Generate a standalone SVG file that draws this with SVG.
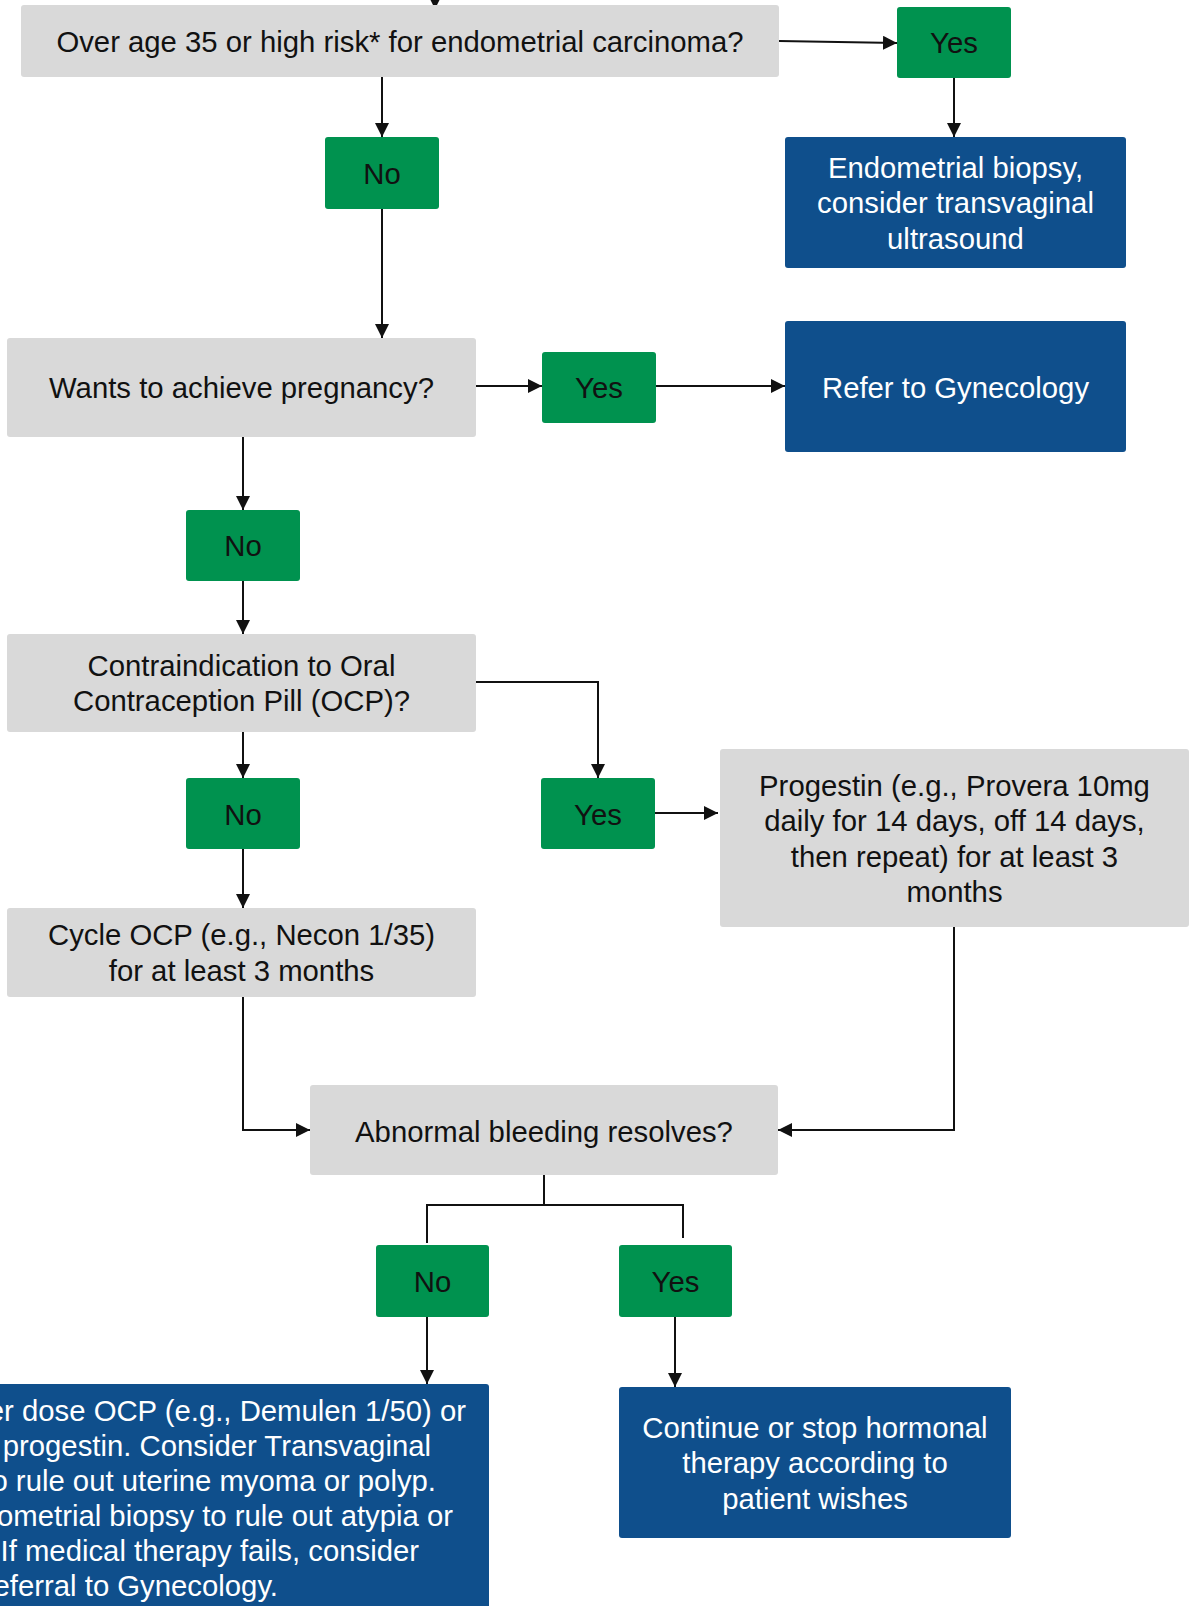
<svg xmlns="http://www.w3.org/2000/svg" width="1190" height="1606" viewBox="0 0 1190 1606">
  <defs>
    <marker id="arrow" markerUnits="userSpaceOnUse" markerWidth="15" markerHeight="15" refX="14" refY="7" orient="auto">
      <path d="M0,0 L14,7 L0,14 z" fill="#111"/>
    </marker>
  </defs>
  <style>
    .q { fill: #D9D9D9; }
    .ans { fill: #00924F; }
    .act { fill: #0F4F8C; }
    text { font-family: "Liberation Sans", Arial, sans-serif; font-size: 29.3px; text-anchor: middle; }
    .dark { fill: #111; }
    .light { fill: #FFFFFF; }
    .wire { fill: none; stroke: #111; stroke-width: 2; }
    .arr { marker-end: url(#arrow); }
    .tail { text-anchor: end; }
  </style>

  <!-- connectors -->
  <g id="connectors">
    <path class="wire arr" d="M435,-20 L435,9"/>
    <path class="wire arr" d="M779,41 L897,43"/>
    <path class="wire arr" d="M954,78 L954,137"/>
    <path class="wire arr" d="M382,77 L382,137"/>
    <path class="wire arr" d="M382,209 L382,338"/>
    <path class="wire arr" d="M476,386 L542,386"/>
    <path class="wire arr" d="M656,386 L785,386"/>
    <path class="wire arr" d="M243,437 L243,510"/>
    <path class="wire arr" d="M243,581 L243,634"/>
    <path class="wire arr" d="M476,682 L598,682 L598,778"/>
    <path class="wire arr" d="M243,732 L243,778"/>
    <path class="wire arr" d="M655,813 L718,813"/>
    <path class="wire arr" d="M243,849 L243,908"/>
    <path class="wire arr" d="M243,997 L243,1130 L310,1130"/>
    <path class="wire arr" d="M954,927 L954,1130 L778,1130"/>
    <path class="wire" d="M544,1175 L544,1205"/>
    <path class="wire" d="M427,1243 L427,1205 L683,1205 L683,1238"/>
    <path class="wire arr" d="M427,1317 L427,1384"/>
    <path class="wire arr" d="M675,1317 L675,1387"/>
  </g>

  <!-- question: age / risk -->
  <g id="q-age">
    <rect class="q" x="21" y="5" width="758" height="72" rx="3"/>
    <text class="dark" x="400" y="52">Over age 35 or high risk* for endometrial carcinoma?</text>
  </g>
  <g id="age-yes">
    <rect class="ans" x="897" y="7" width="114" height="71" rx="3"/>
    <text class="dark" x="954" y="53">Yes</text>
  </g>
  <g id="age-no">
    <rect class="ans" x="325" y="137" width="114" height="72" rx="3"/>
    <text class="dark" x="382" y="184">No</text>
  </g>
  <g id="biopsy">
    <rect class="act" x="785" y="137" width="341" height="131" rx="3"/>
    <text class="light" x="955.5" y="178">Endometrial biopsy,</text>
    <text class="light" x="955.5" y="213">consider transvaginal</text>
    <text class="light" x="955.5" y="249">ultrasound</text>
  </g>

  <!-- question: pregnancy -->
  <g id="q-pregnancy">
    <rect class="q" x="7" y="338" width="469" height="99" rx="3"/>
    <text class="dark" x="241.5" y="398">Wants to achieve pregnancy?</text>
  </g>
  <g id="pregnancy-yes">
    <rect class="ans" x="542" y="352" width="114" height="71" rx="3"/>
    <text class="dark" x="599" y="398">Yes</text>
  </g>
  <g id="refer">
    <rect class="act" x="785" y="321" width="341" height="131" rx="3"/>
    <text class="light" x="955.5" y="398">Refer to Gynecology</text>
  </g>
  <g id="pregnancy-no">
    <rect class="ans" x="186" y="510" width="114" height="71" rx="3"/>
    <text class="dark" x="243" y="556">No</text>
  </g>

  <!-- question: OCP contraindication -->
  <g id="q-ocp">
    <rect class="q" x="7" y="634" width="469" height="98" rx="3"/>
    <text class="dark" x="241.5" y="676">Contraindication to Oral</text>
    <text class="dark" x="241.5" y="711">Contraception Pill (OCP)?</text>
  </g>
  <g id="ocp-no">
    <rect class="ans" x="186" y="778" width="114" height="71" rx="3"/>
    <text class="dark" x="243" y="825">No</text>
  </g>
  <g id="ocp-yes">
    <rect class="ans" x="541" y="778" width="114" height="71" rx="3"/>
    <text class="dark" x="598" y="825">Yes</text>
  </g>
  <g id="progestin">
    <rect class="q" x="720" y="749" width="469" height="178" rx="3"/>
    <text class="dark" x="954.5" y="796">Progestin (e.g., Provera 10mg</text>
    <text class="dark" x="954.5" y="831">daily for 14 days, off 14 days,</text>
    <text class="dark" x="954.5" y="867">then repeat) for at least 3</text>
    <text class="dark" x="954.5" y="902">months</text>
  </g>
  <g id="cycle-ocp">
    <rect class="q" x="7" y="908" width="469" height="89" rx="3"/>
    <text class="dark" x="241.5" y="945">Cycle OCP (e.g., Necon 1/35)</text>
    <text class="dark" x="241.5" y="981">for at least 3 months</text>
  </g>

  <!-- question: resolution -->
  <g id="q-resolves">
    <rect class="q" x="310" y="1085" width="468" height="90" rx="3"/>
    <text class="dark" x="544" y="1142">Abnormal bleeding resolves?</text>
  </g>
  <g id="resolves-no">
    <rect class="ans" x="376" y="1245" width="113" height="72" rx="3"/>
    <text class="dark" x="432.5" y="1292">No</text>
  </g>
  <g id="resolves-yes">
    <rect class="ans" x="619" y="1245" width="113" height="72" rx="3"/>
    <text class="dark" x="675.5" y="1292">Yes</text>
  </g>
  <g id="higher-dose">
    <rect class="act" x="-220" y="1384" width="709" height="240" rx="3"/>
    <text class="light tail" x="466" y="1421">er dose OCP (e.g., Demulen 1/50) or</text>
    <text class="light tail" x="431" y="1456">progestin. Consider Transvaginal</text>
    <text class="light tail" x="436" y="1491">o rule out uterine myoma or polyp.</text>
    <text class="light tail" x="453" y="1526">ometrial biopsy to rule out atypia or</text>
    <text class="light tail" x="419" y="1561">If medical therapy fails, consider</text>
    <text class="light tail" x="278" y="1596">eferral to Gynecology.</text>
  </g>
  <g id="continue">
    <rect class="act" x="619" y="1387" width="392" height="151" rx="3"/>
    <text class="light" x="815" y="1438">Continue or stop hormonal</text>
    <text class="light" x="815" y="1473">therapy according to</text>
    <text class="light" x="815" y="1509">patient wishes</text>
  </g>
</svg>
